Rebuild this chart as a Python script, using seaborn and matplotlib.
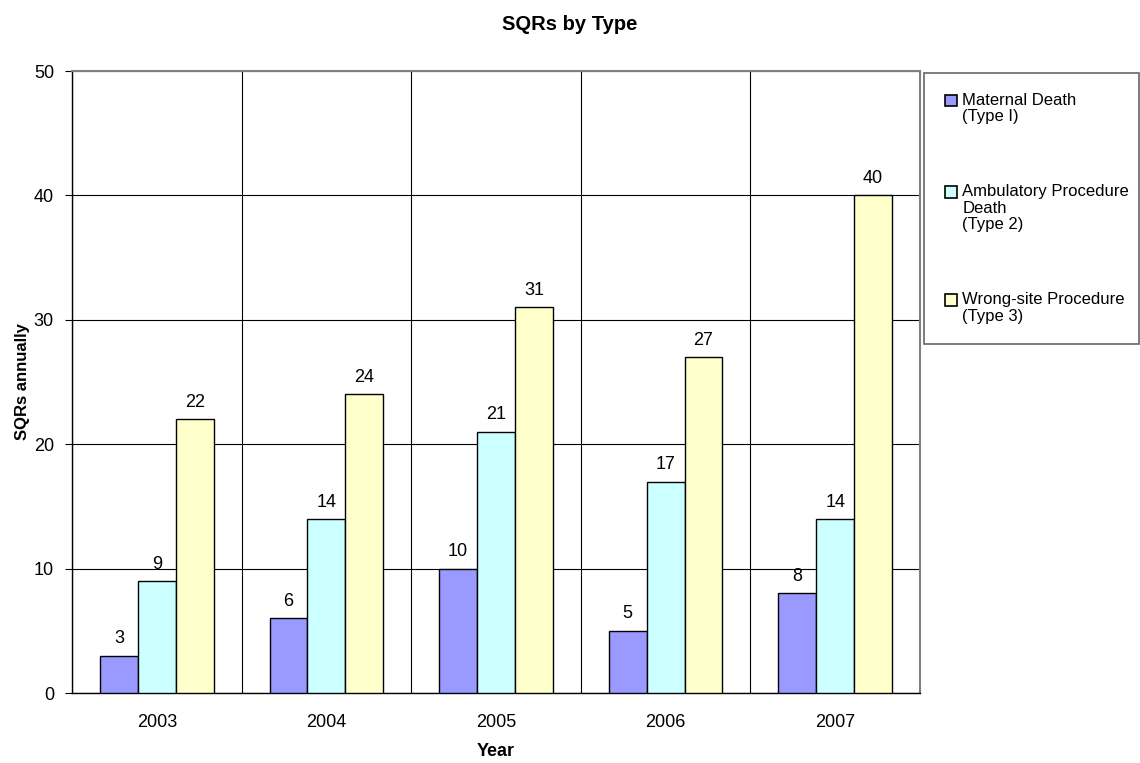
import matplotlib
matplotlib.use("Agg")
import matplotlib.pyplot as plt
from matplotlib.patches import Rectangle
from matplotlib.ticker import MultipleLocator, FixedLocator
import seaborn as sns
import pandas as pd

years = ["2003", "2004", "2005", "2006", "2007"]
series = [
    "Maternal Death\n(Type I)",
    "Ambulatory Procedure\nDeath\n(Type 2)",
    "Wrong-site Procedure\n(Type 3)",
]
maternal = [3, 6, 10, 5, 8]
ambulatory = [9, 14, 21, 17, 14]
wrong_site = [22, 24, 31, 27, 40]
colors = ["#9999FF", "#CCFFFF", "#FFFFCC"]

df = pd.DataFrame({
    "Year": years * 3,
    "Type": [series[0]] * 5 + [series[1]] * 5 + [series[2]] * 5,
    "Count": maternal + ambulatory + wrong_site,
})

sns.set_style("white")
plt.rcParams["font.family"] = ["Liberation Sans", "DejaVu Sans"]
for key in ["text.color", "axes.labelcolor", "xtick.color", "ytick.color"]:
    plt.rcParams[key] = "black"

FS = 13
LEG_FS = 12
LINESP = 1.12

fig = plt.figure(figsize=(11.40, 7.63), dpi=100)
ax = fig.add_axes([72 / 1140, 1 - 693 / 763, 848 / 1140, 622 / 763])

sns.barplot(data=df, x="Year", y="Count", hue="Type", hue_order=series,
            palette=colors, width=0.67, edgecolor="black", linewidth=1.0,
            saturation=1, ax=ax, legend=False, zorder=3)

for cont in ax.containers:
    ax.bar_label(cont, padding=6, fontsize=FS, color="black")

ax.set_xlim(-0.5, 4.5)
ax.set_ylim(0, 50)
ax.yaxis.set_major_locator(MultipleLocator(10))
ax.xaxis.set_minor_locator(FixedLocator([i - 0.5 for i in range(6)]))
ax.grid(True, axis="y", which="major", color="black", linewidth=0.8, zorder=0)
ax.grid(True, axis="x", which="minor", color="black", linewidth=0.8, zorder=0)
ax.grid(False, axis="x", which="major")
ax.set_axisbelow(True)

ax.tick_params(axis="x", which="major", length=0, labelsize=FS, pad=15)
ax.tick_params(axis="x", which="minor", length=5, color="black", direction="out")
ax.tick_params(axis="y", which="major", length=5, color="black", direction="out",
               labelsize=FS, left=True, pad=8)

for side in ["left", "bottom"]:
    ax.spines[side].set_color("black")
    ax.spines[side].set_linewidth(1.0)
for side in ["top", "right"]:
    ax.spines[side].set_color("#808080")
    ax.spines[side].set_linewidth(1.5)

ax.set_xlabel("Year", fontsize=13, fontweight="bold", labelpad=9)
ax.set_ylabel("SQRs annually", fontsize=12, fontweight="bold", labelpad=3)
fig.suptitle("SQRs by Type", fontsize=14.5, fontweight="bold", y=1 - 25 / 763, va="center")


class TopSquare:
    """Legend handle drawn as a small square level with the first text line."""
    def __init__(self, n_lines):
        self.n_lines = n_lines

    def legend_artist(self, legend, orig_handle, fontsize, handlebox):
        size = fontsize * 0.7
        x0 = handlebox.xdescent + (handlebox.width - size) / 2
        y0 = -handlebox.ydescent + (handlebox.height - size) / 2
        y0 += (self.n_lines - 1) * fontsize * 1.0 / 2
        patch = Rectangle((x0, y0), size, size, facecolor=orig_handle.get_facecolor(),
                          edgecolor="black", linewidth=1.2,
                          transform=handlebox.get_transform())
        handlebox.add_artist(patch)
        return patch


handles = [Rectangle((0, 0), 1, 1, facecolor=c) for c in colors]
handler_map = {h: TopSquare(lbl.count("\n") + 1) for h, lbl in zip(handles, series)}
top = 1 - 73 / 763
leg = fig.legend(handles, series, handler_map=handler_map,
                 loc="upper left", mode="expand",
                 bbox_to_anchor=(924 / 1140, 0.3, 215 / 1140, top - 0.3),
                 fontsize=LEG_FS, frameon=True, fancybox=False, shadow=False,
                 borderpad=1.2, labelspacing=3.6, handlelength=0.8,
                 handletextpad=0.3, borderaxespad=0)
leg.get_frame().set_edgecolor("#404040")
leg.get_frame().set_linewidth(1.2)
for t in leg.get_texts():
    t.set_linespacing(LINESP)
    t.set_color("black")

fig.savefig("out.png", dpi=100)
